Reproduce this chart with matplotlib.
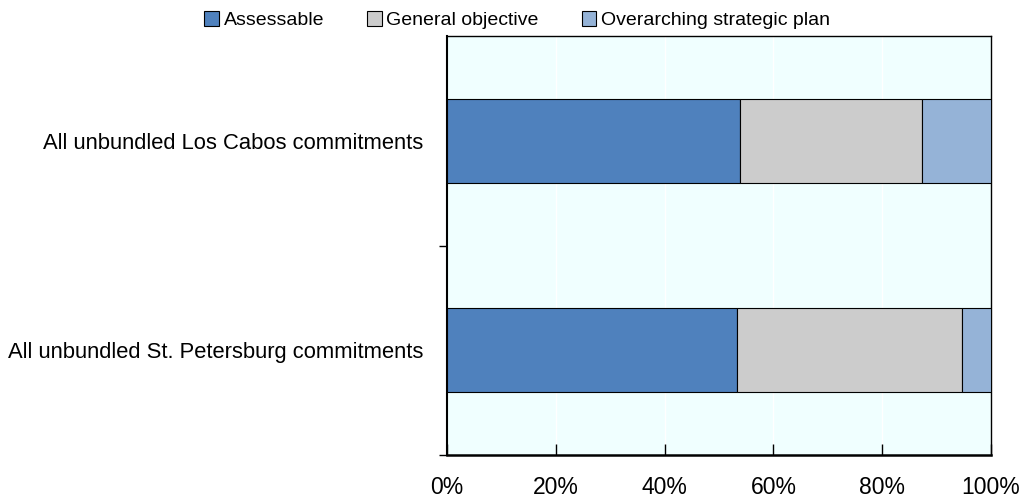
import matplotlib
matplotlib.use("Agg")
import matplotlib.pyplot as plt
import numpy as np

plt.rcParams['font.family'] = ['Liberation Sans', 'DejaVu Sans']

categories = ["All unbundled Los Cabos commitments",
              "All unbundled St. Petersburg commitments"]
series = ["Assessable", "General objective", "Overarching strategic plan"]
assessable = [53.9, 53.3]
general = [33.4, 41.4]
overarching = [12.7, 5.3]
colors = ["#4F81BD", "#CCCCCC", "#95B3D7"]

fig = plt.figure(figsize=(10.26, 5.03), dpi=100)
ax = fig.add_axes([447 / 1026, 1 - 455 / 503, 544 / 1026, 419 / 503])
ax.set_facecolor("#F0FFFF")

y = np.arange(len(categories))
left = np.zeros(len(categories))
for name, vals, c in zip(series, [assessable, general, overarching], colors):
    ax.barh(y, vals, left=left, height=0.4, color=c, edgecolor="black",
            linewidth=0.8, label=name, zorder=3)
    left += np.array(vals)

ax.set_xlim(0, 100)
ax.set_ylim(1.5, -0.5)
ax.set_xticks(np.arange(0, 101, 20))
ax.set_xticklabels([f"{v}%" for v in range(0, 101, 20)])
ax.xaxis.grid(True, color="white", linewidth=1, zorder=0)

# category labels sit between the tick marks
ax.set_yticks([0.5, 1.5])
ax.set_yticklabels([])
ax.set_yticks(y, minor=True)
ax.set_yticklabels(categories, minor=True)
ax.tick_params(axis="y", which="minor", length=0, pad=17, labelsize=15.8)
ax.tick_params(axis="y", which="major", direction="out", length=6, width=1)
ax.tick_params(axis="x", direction="in", length=8, width=1, pad=15, labelsize=16.5)

for s in ax.spines.values():
    s.set_linewidth(1)
ax.spines["bottom"].set_linewidth(1.8)
ax.spines["left"].set_linewidth(1.5)

fig.legend(loc="upper center", bbox_to_anchor=(0.504, 1.012), ncol=3, frameon=False,
           fontsize=14, handlelength=0.75, handleheight=0.75, handletextpad=0.25,
           columnspacing=2.2)

fig.savefig("out.png", dpi=100)
